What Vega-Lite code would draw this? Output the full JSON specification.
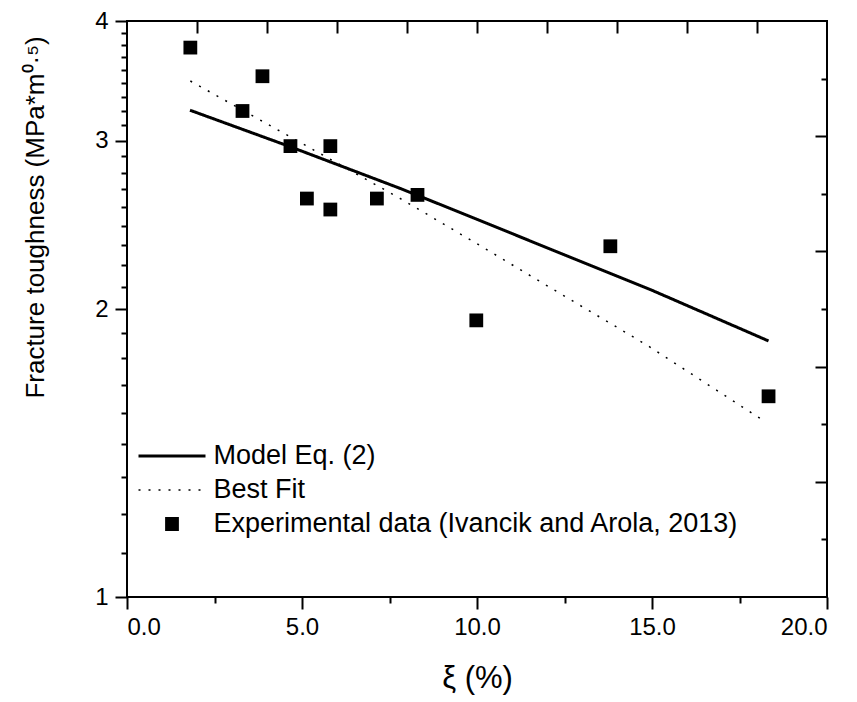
{
  "$schema": "https://vega.github.io/schema/vega-lite/v6.json",
  "width": 700,
  "height": 576,
  "autosize": {"type": "none"},
  "padding": {"left": 127, "top": 21, "right": 30, "bottom": 105},
  "background": "white",
  "config": {
    "view": {"stroke": "black", "strokeWidth": 2},
    "axis": {"domain": false, "grid": false, "tickColor": "black", "tickWidth": 2, "labelColor": "black", "titleColor": "black", "labelFont": "Liberation Sans", "titleFont": "Liberation Sans", "titleFontWeight": "normal"},
    "legend": {"labelFont": "Liberation Sans"}
  },
  "datasets": {
    "exp": [
      {"series": "Experimental data (Ivancik and Arola, 2013)", "xi": 1.81, "K": 3.752},
      {"series": "Experimental data (Ivancik and Arola, 2013)", "xi": 3.30, "K": 3.221},
      {"series": "Experimental data (Ivancik and Arola, 2013)", "xi": 3.87, "K": 3.502},
      {"series": "Experimental data (Ivancik and Arola, 2013)", "xi": 4.67, "K": 2.960},
      {"series": "Experimental data (Ivancik and Arola, 2013)", "xi": 5.14, "K": 2.609},
      {"series": "Experimental data (Ivancik and Arola, 2013)", "xi": 5.81, "K": 2.960},
      {"series": "Experimental data (Ivancik and Arola, 2013)", "xi": 5.81, "K": 2.541},
      {"series": "Experimental data (Ivancik and Arola, 2013)", "xi": 7.14, "K": 2.609},
      {"series": "Experimental data (Ivancik and Arola, 2013)", "xi": 8.30, "K": 2.632},
      {"series": "Experimental data (Ivancik and Arola, 2013)", "xi": 9.98, "K": 1.946},
      {"series": "Experimental data (Ivancik and Arola, 2013)", "xi": 13.81, "K": 2.326},
      {"series": "Experimental data (Ivancik and Arola, 2013)", "xi": 18.33, "K": 1.621}
    ],
    "model": [
      {"series": "Model Eq. (2)", "xi": 1.80, "K": 3.227},
      {"series": "Model Eq. (2)", "xi": 4.67, "K": 2.955},
      {"series": "Model Eq. (2)", "xi": 7.81, "K": 2.673},
      {"series": "Model Eq. (2)", "xi": 10.0, "K": 2.482},
      {"series": "Model Eq. (2)", "xi": 12.5, "K": 2.278},
      {"series": "Model Eq. (2)", "xi": 14.95, "K": 2.096},
      {"series": "Model Eq. (2)", "xi": 18.33, "K": 1.852}
    ],
    "fit": [
      {"series": "Best Fit", "xi": 1.81, "K": 3.462},
      {"series": "Best Fit", "xi": 4.67, "K": 3.026},
      {"series": "Best Fit", "xi": 7.81, "K": 2.609},
      {"series": "Best Fit", "xi": 10.0, "K": 2.340},
      {"series": "Best Fit", "xi": 12.5, "K": 2.063},
      {"series": "Best Fit", "xi": 14.86, "K": 1.833},
      {"series": "Best Fit", "xi": 18.1, "K": 1.536}
    ]
  },
  "resolve": {"axis": {"x": "independent", "y": "independent"}},
  "layer": [
    {
      "data": {"name": "exp"},
      "mark": {"type": "point", "filled": true, "opacity": 1, "color": "black"},
      "encoding": {
        "x": {"field": "xi", "type": "quantitative",
          "scale": {"domain": [0, 20], "nice": false, "zero": false},
          "axis": {"orient": "bottom", "values": [0, 5, 10, 15, 20], "format": ".1f", "tickSize": 12, "labelPadding": 6, "labelFontSize": 24,
            "title": "ξ (%)", "titleFontSize": 31, "titleAlign": "center", "titleBaseline": "alphabetic", "titleX": 350, "titleY": 90}},
        "y": {"field": "K", "type": "quantitative",
          "scale": {"type": "log", "domain": [1, 4], "nice": false},
          "axis": {"orient": "left", "values": [1, 2, 3, 4], "format": "d", "tickSize": 12, "labelPadding": 7, "labelFontSize": 24,
            "title": "Fracture toughness (MPa*m⁰·⁵)", "titleFontSize": 26, "titleAngle": 270, "titleAlign": "center", "titleBaseline": "alphabetic", "titleX": -84, "titleY": 196}},
        "color": {"field": "series", "type": "nominal",
          "scale": {"domain": ["Model Eq. (2)", "Best Fit", "Experimental data (Ivancik and Arola, 2013)"], "range": ["black", "black", "black"]},
          "legend": {"title": null, "orient": "none", "legendX": 10, "legendY": 422, "direction": "vertical", "labelFontSize": 27, "labelColor": "black", "labelLimit": 1000, "labelOffset": 6.5, "rowPadding": 7, "clipHeight": 26, "padding": 0, "symbolFillColor": "black", "symbolStrokeColor": "black"}},
        "shape": {"field": "series", "type": "nominal",
          "scale": {"domain": ["Model Eq. (2)", "Best Fit", "Experimental data (Ivancik and Arola, 2013)"], "range": ["stroke", "stroke", "square"]},
          "legend": {"title": null, "orient": "none", "legendX": 10, "legendY": 422, "direction": "vertical", "labelFontSize": 27, "labelColor": "black", "labelLimit": 1000, "labelOffset": 6.5, "rowPadding": 7, "clipHeight": 26, "padding": 0, "symbolFillColor": "black", "symbolStrokeColor": "black"}},
        "size": {"field": "series", "type": "nominal",
          "scale": {"type": "ordinal", "domain": ["Model Eq. (2)", "Best Fit", "Experimental data (Ivancik and Arola, 2013)"], "range": [4489, 4489, 190]},
          "legend": {"title": null, "orient": "none", "legendX": 10, "legendY": 422, "direction": "vertical", "labelFontSize": 27, "labelColor": "black", "labelLimit": 1000, "labelOffset": 6.5, "rowPadding": 7, "clipHeight": 26, "padding": 0, "symbolFillColor": "black", "symbolStrokeColor": "black"}}
      }
    },
    {
      "data": {"name": "model"},
      "mark": {"type": "line", "color": "black"},
      "encoding": {
        "x": {"field": "xi", "type": "quantitative",
          "scale": {"domain": [0, 20], "nice": false, "zero": false},
          "axis": {"orient": "bottom", "values": [2.5, 7.5, 12.5, 17.5], "tickSize": 6, "labels": false, "title": null}},
        "y": {"field": "K", "type": "quantitative",
          "scale": {"type": "log", "domain": [1, 4], "nice": false},
          "axis": {"orient": "left", "values": [1.1111, 1.2222, 1.3333, 1.4444, 1.5556, 1.6667, 1.7778, 1.8889, 2.1111, 2.2222, 2.3333, 2.4444, 2.5556, 2.6667, 2.7778, 2.8889, 3.1111, 3.2222, 3.3333, 3.4444, 3.5556, 3.6667, 3.7778, 3.8889], "tickSize": 6, "labels": false, "title": null}},
        "color": {"field": "series", "type": "nominal",
          "scale": {"domain": ["Model Eq. (2)", "Best Fit", "Experimental data (Ivancik and Arola, 2013)"], "range": ["black", "black", "black"]},
          "legend": {"title": null, "orient": "none", "legendX": 10, "legendY": 422, "direction": "vertical", "labelFontSize": 27, "labelColor": "black", "labelLimit": 1000, "labelOffset": 6.5, "rowPadding": 7, "clipHeight": 26, "padding": 0, "symbolFillColor": "black", "symbolStrokeColor": "black"}},
        "strokeDash": {"field": "series", "type": "nominal",
          "scale": {"domain": ["Model Eq. (2)", "Best Fit", "Experimental data (Ivancik and Arola, 2013)"], "range": [[1, 0], [2, 8], [1, 0]]},
          "legend": {"title": null, "orient": "none", "legendX": 10, "legendY": 422, "direction": "vertical", "labelFontSize": 27, "labelColor": "black", "labelLimit": 1000, "labelOffset": 6.5, "rowPadding": 7, "clipHeight": 26, "padding": 0, "symbolFillColor": "black", "symbolStrokeColor": "black"}},
        "strokeWidth": {"field": "series", "type": "nominal",
          "scale": {"type": "ordinal", "domain": ["Model Eq. (2)", "Best Fit", "Experimental data (Ivancik and Arola, 2013)"], "range": [3, 1.5, 0]},
          "legend": {"title": null, "orient": "none", "legendX": 10, "legendY": 422, "direction": "vertical", "labelFontSize": 27, "labelColor": "black", "labelLimit": 1000, "labelOffset": 6.5, "rowPadding": 7, "clipHeight": 26, "padding": 0, "symbolFillColor": "black", "symbolStrokeColor": "black"}}
      }
    },
    {
      "data": {"name": "fit"},
      "mark": {"type": "line", "color": "black"},
      "encoding": {
        "x": {"field": "xi", "type": "quantitative",
          "scale": {"domain": [0, 20], "nice": false, "zero": false},
          "axis": {"orient": "top", "values": [2, 4, 6, 8, 10, 12, 14, 16, 18], "tickSize": 12, "offset": -12, "labels": false, "title": null}},
        "y": {"field": "K", "type": "quantitative",
          "scale": {"type": "log", "domain": [1, 4], "nice": false},
          "axis": {"orient": "right", "values": [1.1487, 1.3195, 1.5157, 1.7411, 2, 2.2974, 2.639, 3.0314, 3.482], "tickSize": 12, "offset": -12, "labels": false, "title": null,
            "tickDash": {"condition": {"test": "indexof([1.1487, 1.5157, 2, 2.639, 3.482], datum.value) >= 0", "value": [0, 6, 6]}, "value": [20, 0]}}},
        "color": {"field": "series", "type": "nominal",
          "scale": {"domain": ["Model Eq. (2)", "Best Fit", "Experimental data (Ivancik and Arola, 2013)"], "range": ["black", "black", "black"]},
          "legend": {"title": null, "orient": "none", "legendX": 10, "legendY": 422, "direction": "vertical", "labelFontSize": 27, "labelColor": "black", "labelLimit": 1000, "labelOffset": 6.5, "rowPadding": 7, "clipHeight": 26, "padding": 0, "symbolFillColor": "black", "symbolStrokeColor": "black"}},
        "strokeDash": {"field": "series", "type": "nominal",
          "scale": {"domain": ["Model Eq. (2)", "Best Fit", "Experimental data (Ivancik and Arola, 2013)"], "range": [[1, 0], [2, 8], [1, 0]]},
          "legend": {"title": null, "orient": "none", "legendX": 10, "legendY": 422, "direction": "vertical", "labelFontSize": 27, "labelColor": "black", "labelLimit": 1000, "labelOffset": 6.5, "rowPadding": 7, "clipHeight": 26, "padding": 0, "symbolFillColor": "black", "symbolStrokeColor": "black"}},
        "strokeWidth": {"field": "series", "type": "nominal",
          "scale": {"type": "ordinal", "domain": ["Model Eq. (2)", "Best Fit", "Experimental data (Ivancik and Arola, 2013)"], "range": [3, 1.5, 0]},
          "legend": {"title": null, "orient": "none", "legendX": 10, "legendY": 422, "direction": "vertical", "labelFontSize": 27, "labelColor": "black", "labelLimit": 1000, "labelOffset": 6.5, "rowPadding": 7, "clipHeight": 26, "padding": 0, "symbolFillColor": "black", "symbolStrokeColor": "black"}}
      }
    }
  ]
}
